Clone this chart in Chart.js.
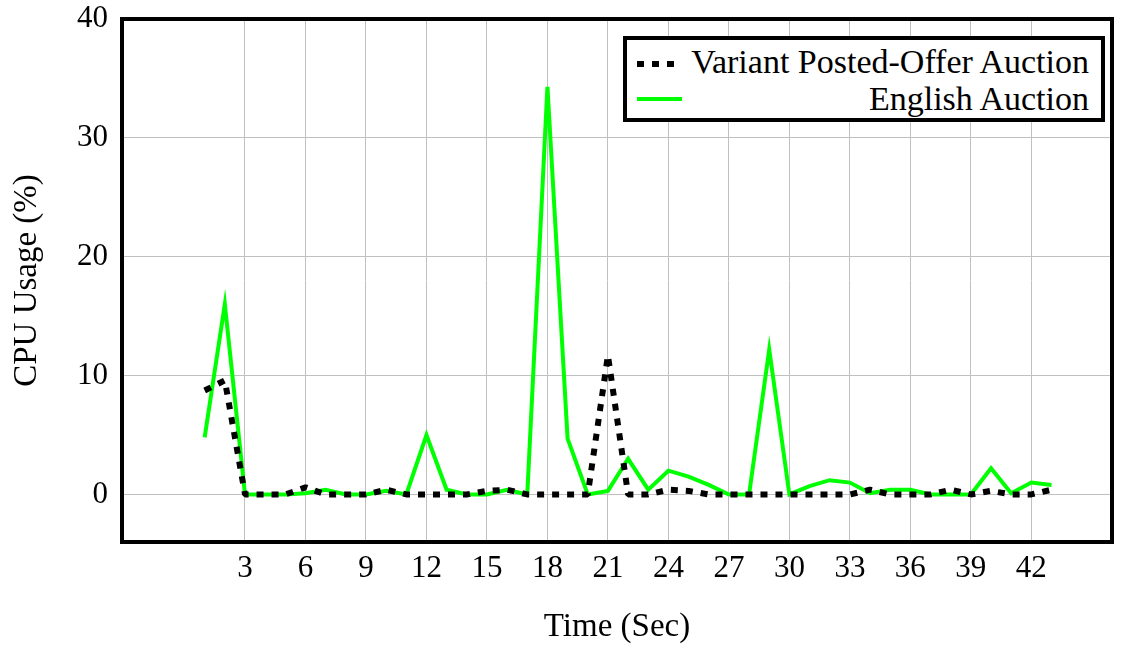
<!DOCTYPE html>
<html>
<head>
<meta charset="utf-8">
<script src="https://cdn.jsdelivr.net/npm/chart.js@4.4.0/dist/chart.umd.min.js"></script>
<style>
  body { margin: 0; background: #fff; }
  #wrap { position: relative; width: 1129px; height: 649px; }
  #legend {
    position: absolute; left: 623px; top: 36px; width: 474px; height: 78px;
    border: 4px solid #000; background: #fff;
    font-family: 'Liberation Serif', serif; font-size: 34px; color: #000;
  }
  #legend .row { position: absolute; right: 12px; white-space: nowrap; line-height: 1; }
  #legend svg { position: absolute; left: 8px; }
</style>
</head>
<body>
<div id="wrap">
  <canvas id="cpu-chart" width="1129" height="649"></canvas>
  <div id="legend">
    <svg style="top:18px" width="46" height="12"><line x1="2" y1="6" x2="45" y2="6" stroke="#000" stroke-width="6" stroke-dasharray="7,8"/></svg>
    <span class="row" style="top:5px">Variant Posted-Offer Auction</span>
    <svg style="top:55px" width="48" height="8"><line x1="2" y1="4" x2="47" y2="4" stroke="#00ff00" stroke-width="4"/></svg>
    <span class="row" style="top:42px">English Auction</span>
  </div>
</div>
<script>
const seconds = [1, 2, 3, 4, 5, 6, 7, 8, 9, 10, 11, 12, 13, 14, 15, 16, 17, 18, 19, 20, 21, 22,
                 23, 24, 25, 26, 27, 28, 29, 30, 31, 32, 33, 34, 35, 36, 37, 38, 39, 40, 41, 42, 43];
const variantUsage = [8.75, 9.6, 0, 0, 0, 0.6, 0, 0, 0, 0.4, 0, 0, 0, 0, 0.3, 0.4, 0, 0, 0, 0, 11.7, 0,
                      0, 0.4, 0.3, 0, 0, 0, 0, 0, 0, 0, 0, 0.4, 0, 0, 0, 0.4, 0, 0.3, 0, 0, 0.4];
const englishUsage = [4.8, 16, 0, 0, 0, 0.1, 0.4, 0, 0, 0.3, 0, 5, 0.4, 0, 0, 0.4, 0, 34.3, 4.7, 0, 0.3, 3.0,
                      0.4, 2.0, 1.5, 0.8, 0, 0, 12.2, 0, 0.7, 1.2, 1.0, 0.1, 0.4, 0.4, 0, 0, 0, 2.2, 0.1, 1.0, 0.8];
const xTickValues = [3, 6, 9, 12, 15, 18, 21, 24, 27, 30, 33, 36, 39, 42];
const yTickValues = [0, 10, 20, 30, 40];

function toPoints(values) {
  return seconds.map((s, i) => ({ x: s, y: values[i] }));
}

Chart.defaults.font.family = "'Liberation Serif', serif";
Chart.defaults.font.size = 31;
Chart.defaults.color = '#000';

// thick frame round the plot area
const framePlugin = {
  id: 'frame',
  afterDatasetsDraw(chart) {
    const { ctx, chartArea: a } = chart;
    ctx.save();
    ctx.strokeStyle = '#000';
    ctx.lineWidth = 4;
    ctx.strokeRect(a.left, a.top, a.right - a.left, a.bottom - a.top);
    ctx.restore();
  }
};

new Chart(document.getElementById('cpu-chart'), {
  type: 'line',
  data: {
    datasets: [
      {
        label: 'Variant Posted-Offer Auction',
        data: toPoints(variantUsage),
        borderColor: '#000',
        borderWidth: 6,
        borderDash: [7, 8],
        borderCapStyle: 'butt',
        borderJoinStyle: 'bevel',
        pointRadius: 0,
        tension: 0,
        fill: false
      },
      {
        label: 'English Auction',
        data: toPoints(englishUsage),
        borderColor: '#00ff00',
        borderWidth: 4,
        borderJoinStyle: 'miter',
        pointRadius: 0,
        tension: 0,
        fill: false
      }
    ]
  },
  options: {
    responsive: false,
    animation: false,
    layout: { padding: { top: 19, right: 17, left: 0, bottom: 0 } },
    plugins: { legend: { display: false }, tooltip: { enabled: false } },
    scales: {
      x: {
        type: 'linear',
        min: -3.1,
        max: 46,
        afterBuildTicks: s => { s.ticks = xTickValues.map(v => ({ value: v })); },
        afterFit: s => { s.height = 107; s.paddingLeft = 0; s.paddingRight = 0; },
        grid: { color: '#c0c0c0', lineWidth: 1, drawTicks: false },
        border: { display: false },
        ticks: { padding: 8, maxRotation: 0, autoSkip: false },
        title: { display: true, text: 'Time (Sec)', font: { size: 33 }, padding: { top: 0, bottom: 2 } }
      },
      y: {
        min: -4,
        max: 40,
        afterBuildTicks: s => { s.ticks = yTickValues.map(v => ({ value: v })); },
        afterFit: s => { s.width = 122; s.paddingTop = 0; s.paddingBottom = 0; },
        grid: { color: '#c0c0c0', lineWidth: 1, drawTicks: false },
        border: { display: false },
        ticks: { padding: 14 },
        title: { display: true, text: 'CPU Usage (%)', font: { size: 33 }, padding: { top: 8, bottom: 0 } }
      }
    }
  },
  plugins: [framePlugin]
});
</script>
</body>
</html>
